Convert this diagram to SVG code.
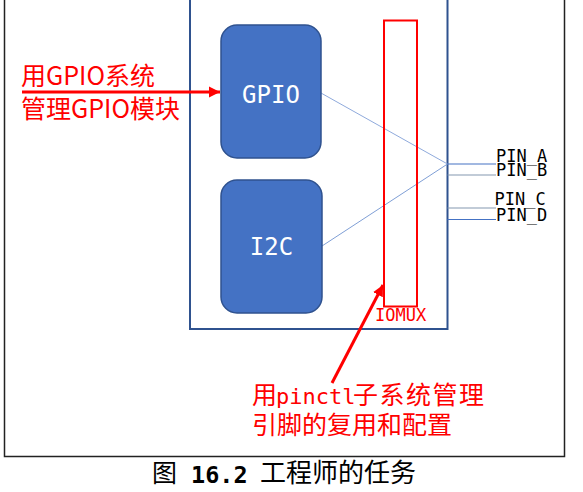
<svg xmlns="http://www.w3.org/2000/svg" width="583" height="492" viewBox="0 0 583 492">
<style>
.box{fill:#4472C4;stroke:#2F528F;stroke-width:1.5}
.boxtxt{font-family:"DejaVu Sans Mono",monospace;font-size:24px;fill:#fff;text-anchor:middle}
.pin{font-family:"DejaVu Sans Mono",monospace;font-size:17px;fill:#000}
.red{font-family:"Noto Sans CJK SC",sans-serif;font-size:25px;fill:#FF0000}
.redmono{font-family:"DejaVu Sans Mono",monospace;font-size:22px;fill:#FF0000}
.arrow{stroke:#FF0000;stroke-width:3;fill:none}
</style>
<defs>
<marker id="ah" markerUnits="userSpaceOnUse" markerWidth="12" markerHeight="12" refX="11" refY="6" orient="auto">
<path d="M0,0.5 L11,6 L0,11.5 Z" fill="#FF0000"/>
</marker>
</defs>
<rect width="583" height="492" fill="#fff"/>
<g id="frame">
<path d="M4.5,0 V456.5 H564.5 V0" fill="none" stroke="#222" stroke-width="1.5"/>
</g>
<g id="soc">
<path d="M190,0 V329 H447.5 V0" fill="none" stroke="#2F528F" stroke-width="2"/>
</g>
<g id="connectors">
<line x1="321" y1="93" x2="447.5" y2="164" stroke="#8FAADC" stroke-width="1"/>
<line x1="322" y1="246" x2="447.5" y2="164" stroke="#7F9FD6" stroke-width="1"/>
<line x1="447.5" y1="164" x2="496" y2="164" stroke="#4472C4" stroke-width="1.2"/>
<line x1="447.5" y1="175" x2="496" y2="175" stroke="#8497B0" stroke-width="1.2"/>
<line x1="447.5" y1="208" x2="496" y2="208" stroke="#8497B0" stroke-width="1.2"/>
<line x1="447.5" y1="219.5" x2="496" y2="219.5" stroke="#4472C4" stroke-width="1.2"/>
<line x1="22" y1="92" x2="220" y2="92" class="arrow" marker-end="url(#ah)"/>
<line x1="332" y1="383" x2="383" y2="285" class="arrow" marker-end="url(#ah)"/>
</g>
<g id="gpio">
<rect x="221" y="25" width="100" height="133" rx="16" class="box"/>
<text x="271" y="102.5" class="boxtxt">GPIO</text>
</g>
<g id="i2c">
<rect x="221" y="180" width="101" height="133" rx="16" class="box"/>
<text x="271.5" y="255" class="boxtxt">I2C</text>
</g>
<g id="iomux">
<rect x="384" y="20.5" width="33" height="286" fill="none" stroke="#FF0000" stroke-width="2"/>
<text x="375" y="321" class="pin" style="fill:#FF0000">IOMUX</text>
</g>
<g id="pins">
<text x="496" y="162" class="pin">PIN_A</text>
<text x="496" y="175.5" class="pin">PIN_B</text>
<text x="494.5" y="204.5" class="pin">PIN_C</text>
<text x="496" y="221" class="pin">PIN_D</text>
</g>
<g id="label-gpio">
<text x="21" y="85" class="red">用GPIO系统</text>
<text x="21" y="118" class="red">管理GPIO模块</text>
</g>
<g id="label-pinctl">
<text x="252" y="404" class="red">用</text>
<text x="276" y="404" class="redmono">pinctl</text>
<text x="353" y="404" class="red" letter-spacing="1.5">子系统管理</text>
<text x="252" y="434" class="red">引脚的复用和配置</text>
</g>
<g id="caption">
<text x="152" y="482" font-family="Noto Sans CJK SC,sans-serif" font-size="25" fill="#000">图</text>
<text x="191" y="482.5" font-family="DejaVu Sans Mono,monospace" font-size="23.5" font-weight="bold" fill="#000">16.2</text>
<text x="260" y="482" font-family="Noto Sans CJK SC,sans-serif" font-size="26" fill="#000">工程师的任务</text>
</g>
</svg>
